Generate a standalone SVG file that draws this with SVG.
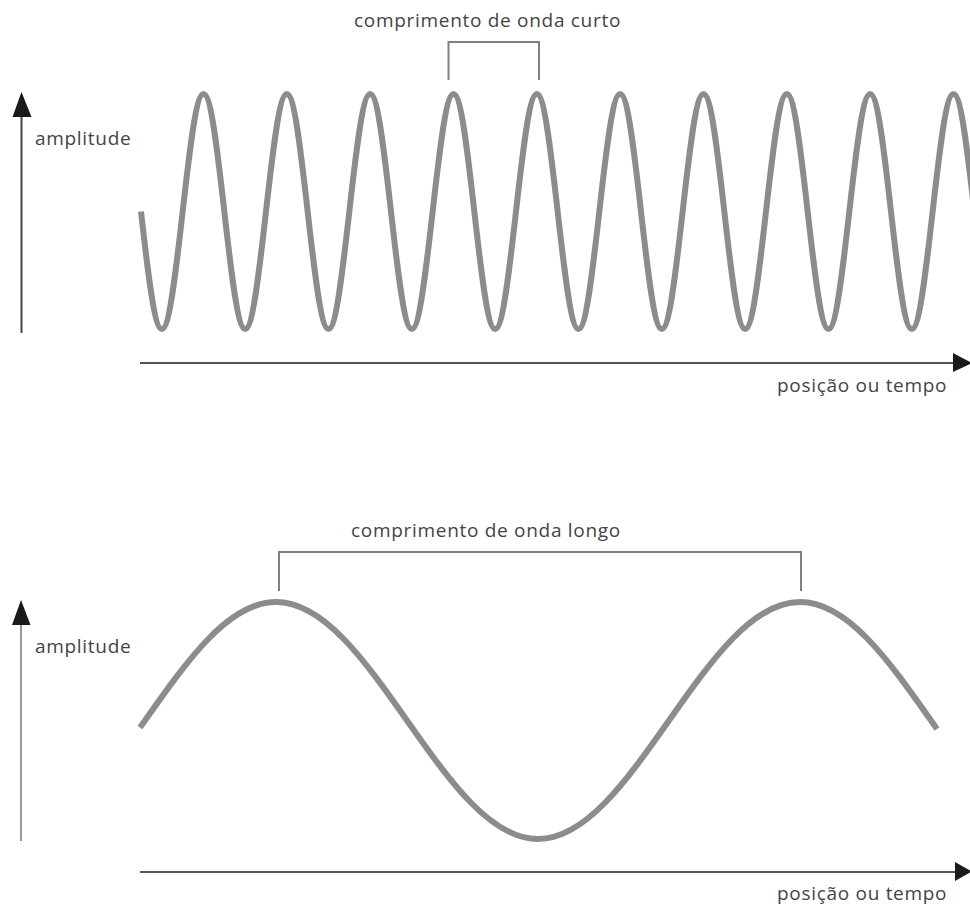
<svg xmlns="http://www.w3.org/2000/svg" width="970" height="906" viewBox="0 0 970 906">
<style>
.wave{fill:none;stroke:#8c8c8c;stroke-width:6;stroke-linecap:butt;stroke-linejoin:round}
.axis{fill:none;stroke:#555;stroke-width:2}
.bracket{fill:none;stroke:#808080;stroke-width:2}
.head{fill:#1a1a1a}
.lbl{font-family:"Open Sans","Noto Sans","Liberation Sans",sans-serif;font-size:19px;letter-spacing:0.7px;fill:#444}
</style>
<rect width="970" height="906" fill="#fff"/>
<g id="top-panel">
  <g id="top-y-axis">
    <line class="axis" x1="21.5" y1="112" x2="21.5" y2="333" style="stroke:#444"/>
    <polygon class="head" points="21.5,92 12.5,117 31.5,117"/>
    <text class="lbl" x="35" y="145">amplitude</text>
  </g>
  <g id="top-x-axis">
    <line class="axis" x1="140" y1="363" x2="958" y2="363"/>
    <polygon class="head" points="972,363 953,353 953,372"/>
    <text class="lbl" x="777" y="392">posição ou tempo</text>
  </g>
  <g id="short-wave">
    <path class="wave" d="M141 211.5 c 6.795 60.2 13.29 117.5 20.833 117.5
      s 14.038 -57.3 20.833 -117.5 s 13.29 -117.5 20.833 -117.5 s 14.038 57.3 20.833 117.5 s 13.29 117.5 20.833 117.5
      s 14.038 -57.3 20.833 -117.5 s 13.29 -117.5 20.833 -117.5 s 14.038 57.3 20.833 117.5 s 13.29 117.5 20.833 117.5
      s 14.038 -57.3 20.833 -117.5 s 13.29 -117.5 20.833 -117.5 s 14.038 57.3 20.833 117.5 s 13.29 117.5 20.833 117.5
      s 14.038 -57.3 20.833 -117.5 s 13.29 -117.5 20.833 -117.5 s 14.038 57.3 20.833 117.5 s 13.29 117.5 20.833 117.5
      s 14.038 -57.3 20.833 -117.5 s 13.29 -117.5 20.833 -117.5 s 14.038 57.3 20.833 117.5 s 13.29 117.5 20.833 117.5
      s 14.038 -57.3 20.833 -117.5 s 13.29 -117.5 20.833 -117.5 s 14.038 57.3 20.833 117.5 s 13.29 117.5 20.833 117.5
      s 14.038 -57.3 20.833 -117.5 s 13.29 -117.5 20.833 -117.5 s 14.038 57.3 20.833 117.5 s 13.29 117.5 20.833 117.5
      s 14.038 -57.3 20.833 -117.5 s 13.29 -117.5 20.833 -117.5 s 14.038 57.3 20.833 117.5 s 13.29 117.5 20.833 117.5
      s 14.038 -57.3 20.833 -117.5 s 13.29 -117.5 20.833 -117.5 s 14.038 57.3 20.833 117.5 s 13.29 117.5 20.833 117.5
      s 14.038 -57.3 20.833 -117.5 s 13.29 -117.5 20.833 -117.5 s 14.038 57.3 20.833 117.5"/>
  </g>
  <g id="short-wavelength">
    <path class="bracket" d="M448.5 80 V42 H539 V80"/>
    <text class="lbl" x="354" y="27">comprimento de onda curto</text>
  </g>
</g>
<g id="bottom-panel">
  <g id="bottom-y-axis">
    <line class="axis" x1="21" y1="620" x2="21" y2="841" style="stroke:#999"/>
    <polygon class="head" points="21,600 12,625 30.5,625"/>
    <text class="lbl" x="35" y="653">amplitude</text>
  </g>
  <g id="bottom-x-axis">
    <line class="axis" x1="140" y1="872" x2="958" y2="872"/>
    <polygon class="head" points="972,871.5 955,862 955,881"/>
    <text class="lbl" x="777" y="900">posição ou tempo</text>
  </g>
  <g id="long-wave">
    <path class="wave" d="M140 727.6 L145 720.5 c 42.72 -60.71 83.59 -118.5 131 -118.5 s 88.28 57.79 131 118.5 s 83.59 118.5 131 118.5 s 88.28 -57.79 131 -118.5 s 83.59 -118.5 131 -118.5 s 88.28 57.79 131 118.5 l 6 8.5"/>
  </g>
  <g id="long-wavelength">
    <path class="bracket" d="M279 591 V552 H801 V591"/>
    <text class="lbl" x="351" y="537">comprimento de onda longo</text>
  </g>
</g>
</svg>
